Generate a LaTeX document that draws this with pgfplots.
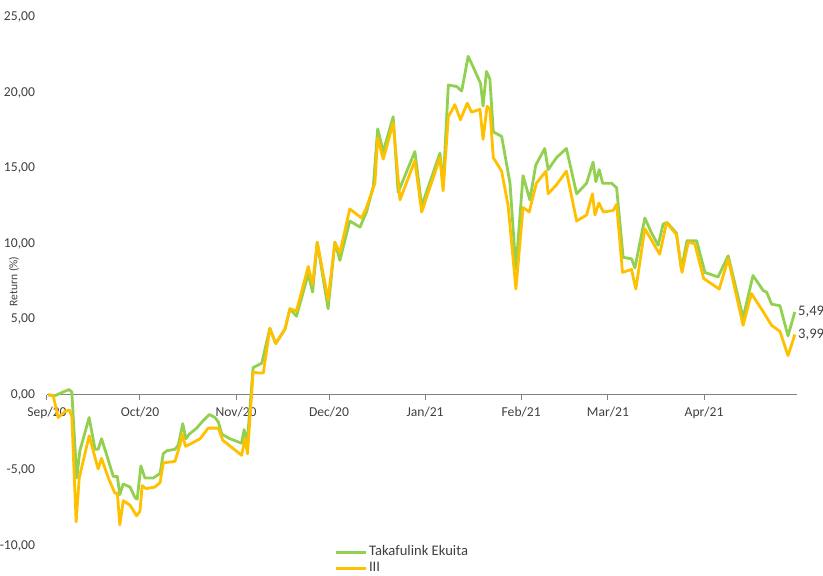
\documentclass[border=0pt]{standalone}
\usepackage{pgfplots}
\pgfplotsset{compat=1.18}
\usepackage{fontspec}
\setmainfont{Carlito}
\definecolor{tgreen}{RGB}{146,208,80}
\definecolor{tyellow}{RGB}{255,192,0}
\definecolor{txt}{RGB}{64,64,64}
\begin{document}
\begin{tikzpicture}[x=1pt,y=1pt]
\path[use as bounding box] (-23.5,-14.5) rectangle (388,273);
\begin{axis}[
  at={(0,0)}, anchor=south west,
  scale only axis, width=375pt, height=264.5pt,
  xmin=0, xmax=242, ymin=-10, ymax=25,
  clip=false,
  axis x line*=middle, axis y line*=left,
  y axis line style={draw=none},
  x axis line style={draw=black!50, line width=0.6pt},
  ytick={-10,-5,...,25},
  ytick style={draw=none},
  xtick={0,30,61,91,122,153,181,212},
  xticklabels={Sep/20,Oct/20,Nov/20,Dec/20,Jan/21,Feb/21,Mar/21,Apr/21},
  xtick style={draw=black!50, line width=0.5pt},
  tick align=outside, major tick length=2.5pt,
  hide obscured x ticks=false,
  ticklabel style={font=\fontsize{6.8}{8}\selectfont, text=txt},
  yticklabel style={/pgf/number format/.cd, fixed, fixed zerofill, precision=2, use comma, assume math mode=true},
  ylabel={Return (\%)},
  ylabel style={font=\fontsize{5.8}{7}\selectfont, text=txt, at={(rel axis cs:-0.044,0.5)}, anchor=center},
  legend cell align=left,
  legend style={at={(0.375,0.012)}, anchor=north west, draw=none, fill=none,
    font=\fontsize{7.3}{8.5}\selectfont, text=txt, row sep=0pt, nodes={inner sep=0.8pt}},
  legend image code/.code={\draw[#1] (0pt,0pt) -- (15pt,0pt);},
]
\addplot[tgreen, line width=1.4pt, line join=round] coordinates {
(0.4,0.0)(2.6,-0.05)(5.3,0.2)(7.1,0.35)(8.0,0.2)(9.6,-5.5)(10.6,-3.7)(13.6,-1.5)(15.5,-3.6)(16.5,-3.6)(17.6,-2.9)(19.3,-4.0)(21.4,-5.4)(22.7,-5.4)(23.5,-6.6)(24.6,-5.9)(26.8,-6.1)(28.4,-6.8)(29.1,-6.9)(30.3,-4.7)(31.6,-5.5)(34.3,-5.5)(36.5,-5.2)(37.5,-3.9)(38.6,-3.7)(41.3,-3.6)(42.4,-3.3)(43.8,-1.9)(44.8,-2.9)(45.9,-2.6)(48.3,-2.2)(50.4,-1.7)(52.4,-1.3)(54.2,-1.5)(55.3,-1.8)(56.4,-2.6)(59.0,-2.9)(62.8,-3.2)(63.6,-2.3)(64.6,-3.2)(66.5,1.8)(69.3,2.1)(71.9,4.4)(73.8,3.4)(76.8,4.35)(78.4,5.7)(80.5,5.2)(84.3,8.0)(85.7,6.8)(87.2,10.1)(90.7,5.7)(92.9,10.1)(94.5,8.9)(97.7,11.5)(101.0,11.1)(103.1,12.1)(105.3,13.8)(106.7,17.6)(108.5,16.1)(111.7,18.4)(113.3,13.4)(118.7,16.1)(120.9,12.5)(126.8,16.0)(127.8,13.8)(129.5,20.5)(132.2,20.4)(133.8,20.1)(135.9,22.4)(137.5,21.7)(139.9,20.6)(140.7,19.1)(141.8,21.4)(142.9,20.9)(144.0,17.4)(146.7,17.1)(149.4,14.0)(151.3,8.3)(153.6,14.5)(155.8,12.9)(157.7,15.2)(160.6,16.3)(161.7,14.9)(164.4,15.7)(167.6,16.3)(170.9,13.3)(174.1,14.0)(176.2,15.4)(177.1,14.1)(178.2,14.9)(179.3,14.0)(182.2,14.0)(183.8,13.7)(185.9,9.1)(188.6,9.0)(189.7,8.4)(192.9,11.7)(195.1,10.7)(197.2,9.9)(198.8,11.3)(200.1,11.4)(203.1,10.7)(204.7,8.3)(206.5,10.2)(209.6,10.2)(212.3,8.1)(216.5,7.8)(219.8,9.2)(224.6,5.1)(227.8,7.9)(231.1,6.9)(232.2,6.8)(233.8,6.0)(236.5,5.9)(239.1,3.9)(241.3,5.49)
} node[pos=1, anchor=west, font=\fontsize{7.3}{8.5}\selectfont, text=txt, inner sep=1pt] {5,49};
\addlegendentry{Takafulink Ekuita}
\addplot[tyellow, line width=1.4pt, line join=round] coordinates {
(0.4,0.0)(2.0,-0.05)(3.6,-1.5)(5.8,-1.1)(7.2,-1.0)(8.0,-1.4)(9.4,-8.4)(10.4,-5.5)(13.6,-2.7)(16.5,-4.9)(17.6,-4.2)(19.8,-5.5)(21.9,-6.5)(22.7,-6.5)(23.5,-8.6)(24.6,-7.0)(26.8,-7.3)(28.9,-8.0)(30.0,-7.7)(30.7,-6.0)(31.9,-6.2)(34.8,-6.1)(36.5,-5.8)(37.5,-4.5)(41.3,-4.4)(42.9,-3.3)(43.6,-2.6)(44.7,-3.4)(46.7,-3.2)(49.4,-2.9)(52.0,-2.2)(55.3,-2.2)(56.7,-3.0)(62.8,-4.0)(63.9,-2.9)(64.7,-3.9)(66.5,1.5)(68.2,1.45)(69.8,1.45)(71.9,4.4)(73.8,3.4)(76.8,4.35)(78.4,5.7)(80.5,5.55)(84.3,8.5)(85.7,7.3)(87.2,10.1)(90.7,6.3)(92.9,10.1)(94.5,9.4)(97.7,12.3)(101.5,11.7)(103.1,12.4)(105.8,14.0)(106.7,17.0)(108.5,15.6)(111.7,18.0)(113.9,12.9)(118.7,15.5)(120.9,12.1)(126.8,15.7)(127.8,13.5)(129.5,18.4)(131.6,19.2)(133.4,18.2)(135.6,19.3)(137.0,18.7)(139.7,18.9)(140.7,16.9)(142.0,19.1)(142.9,18.9)(144.0,15.7)(146.7,14.8)(148.8,12.5)(151.3,7.0)(153.6,12.4)(155.6,12.1)(157.9,14.0)(161.0,14.8)(161.7,13.3)(164.4,13.9)(167.6,14.8)(170.9,11.5)(174.1,11.9)(176.0,13.3)(176.8,11.9)(178.1,12.7)(179.5,12.1)(182.7,12.2)(183.8,12.6)(185.7,8.1)(188.6,8.3)(190.0,7.0)(192.9,11.0)(197.7,9.3)(199.9,11.4)(203.1,10.6)(204.9,8.1)(206.9,10.1)(209.0,10.0)(211.9,7.7)(216.9,7.0)(219.8,9.0)(224.6,4.6)(227.3,6.7)(231.1,5.5)(233.8,4.6)(236.5,4.2)(239.1,2.6)(241.3,3.99)
} node[pos=1, anchor=west, font=\fontsize{7.3}{8.5}\selectfont, text=txt, inner sep=1pt] {3,99};
\addlegendentry{III}
\end{axis}
\end{tikzpicture}
\end{document}
